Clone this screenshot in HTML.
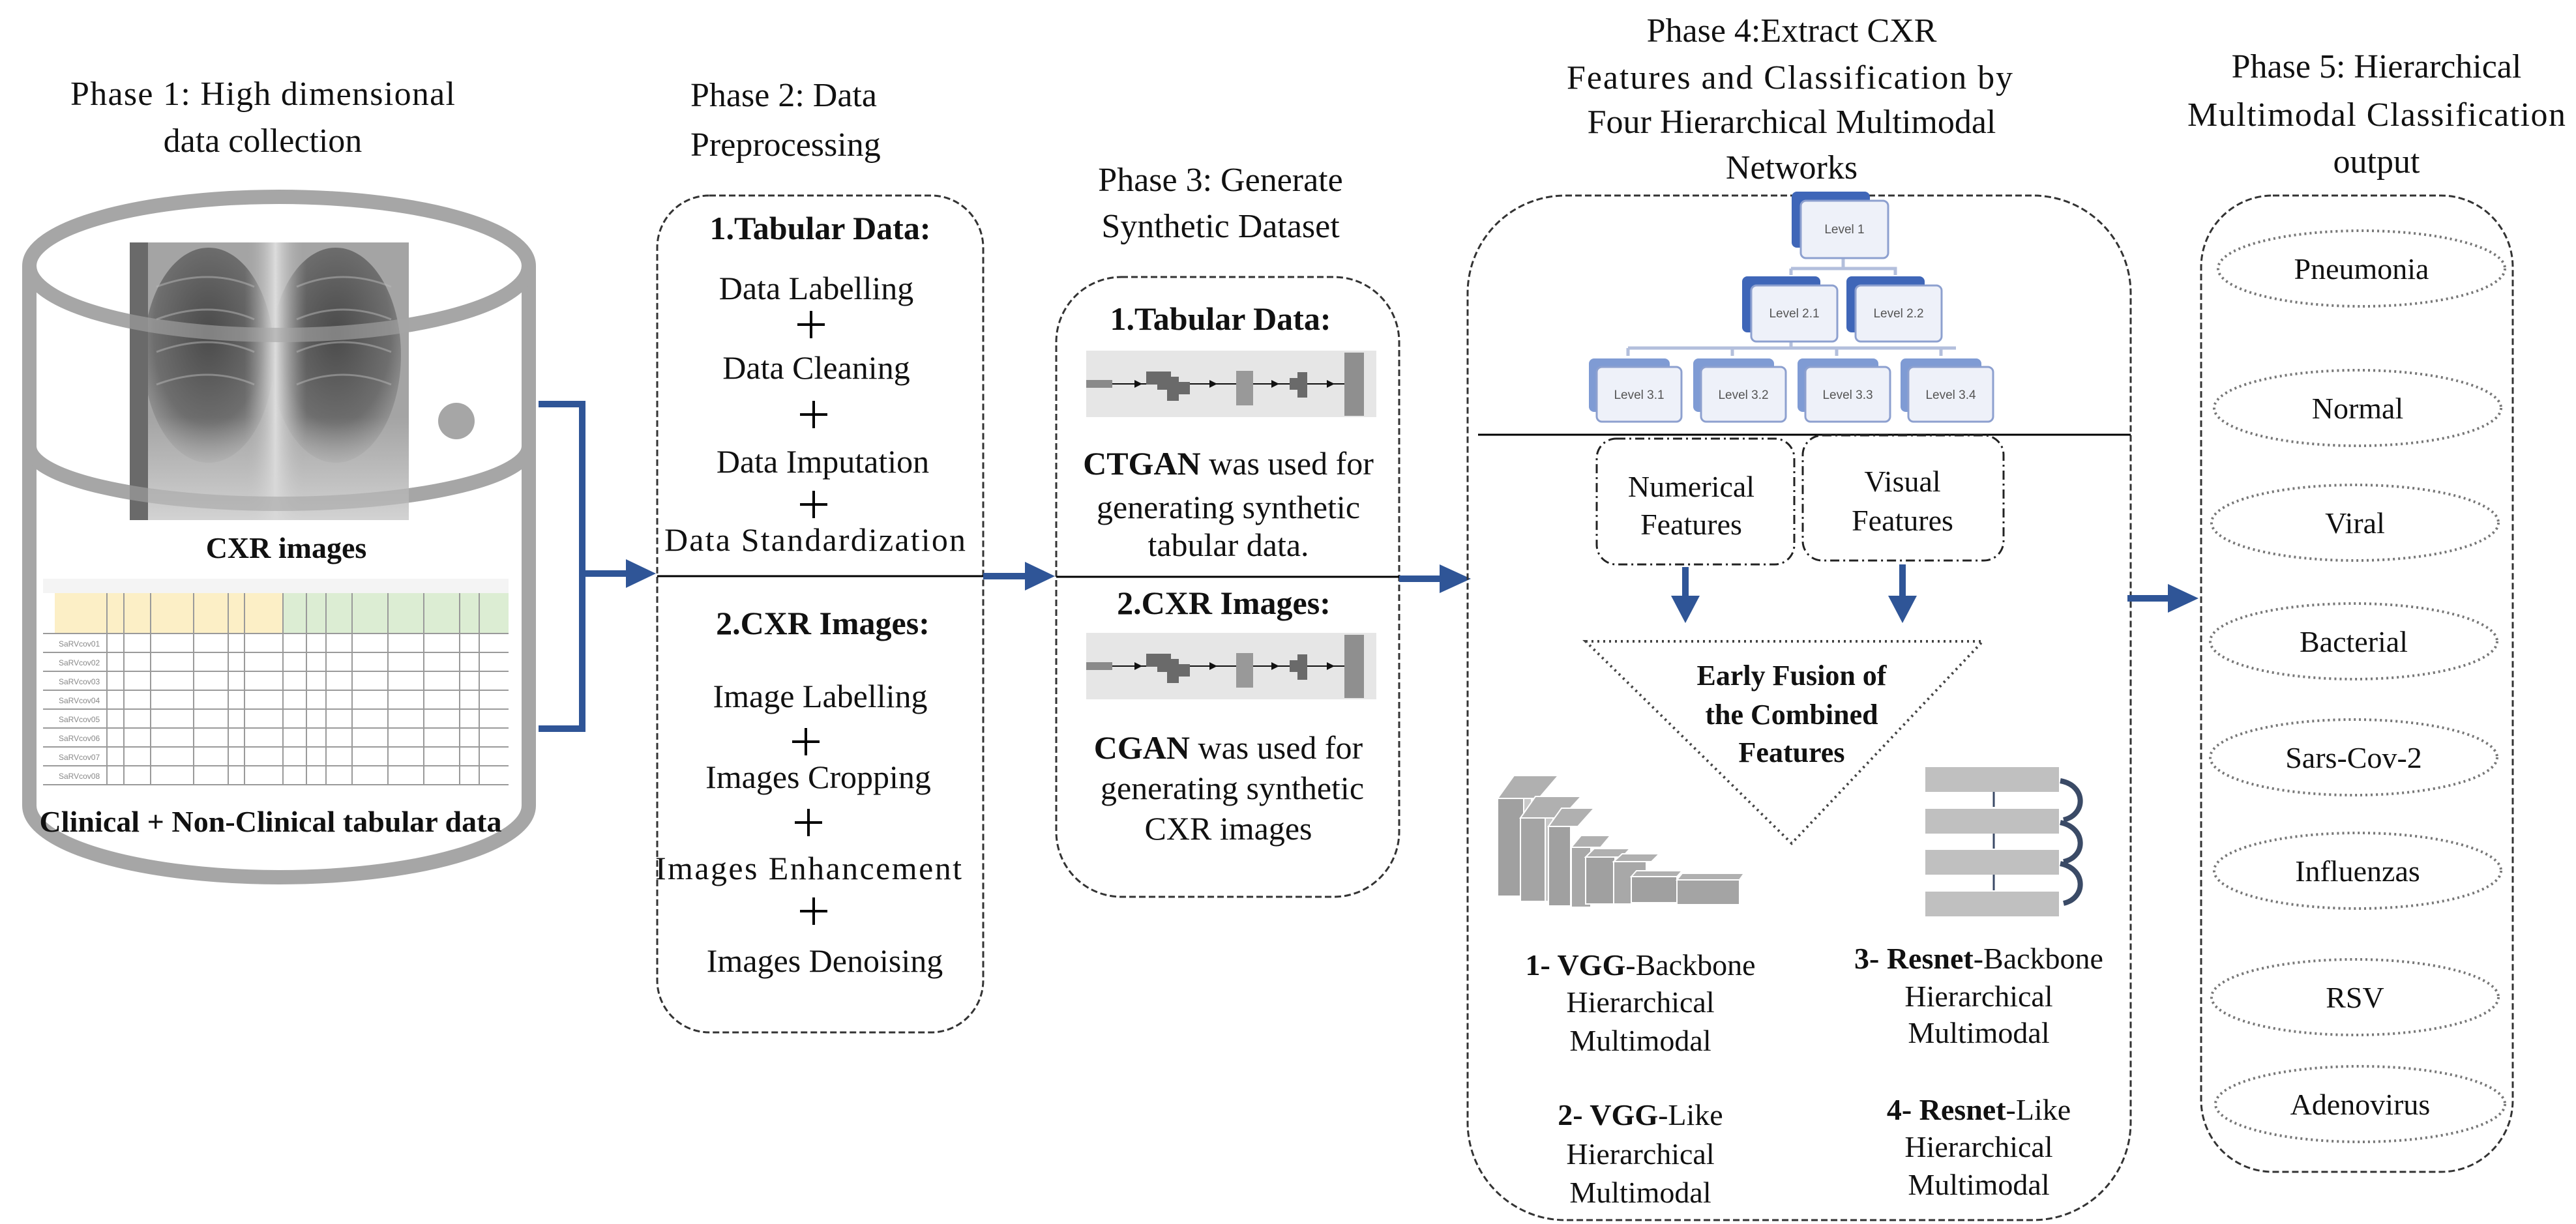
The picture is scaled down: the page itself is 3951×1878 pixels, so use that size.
<!DOCTYPE html>
<html><head><meta charset="utf-8"><style>
html,body{margin:0;padding:0;background:#fff}
svg{display:block}
text{font-family:"Liberation Serif",serif;fill:#111}
.t{font-size:52px}
.b{font-size:50px}
.bd{font-weight:bold}
.lv{font-family:"Liberation Sans",sans-serif;font-size:19px;fill:#555}
</style></head><body>
<svg width="3951" height="1878" viewBox="0 0 3951 1878" xmlns="http://www.w3.org/2000/svg">
<defs>
<radialGradient id="lung" cx="50%" cy="40%" r="60%"><stop offset="0" stop-color="#4a4a4a"/><stop offset="0.7" stop-color="#6e6e6e"/><stop offset="1" stop-color="#9a9a9a"/></radialGradient>
<linearGradient id="med" x1="0" y1="0" x2="1" y2="0"><stop offset="0" stop-color="#a0a0a0" stop-opacity="0"/><stop offset="0.5" stop-color="#dcdcdc"/><stop offset="1" stop-color="#a0a0a0" stop-opacity="0"/></linearGradient>
<linearGradient id="dia" x1="0" y1="0" x2="0" y2="1"><stop offset="0" stop-color="#d4d4d4" stop-opacity="0"/><stop offset="1" stop-color="#d8d8d8" stop-opacity="0.9"/></linearGradient>
</defs>

<!-- ===== Phase 1 ===== -->
<text class="t" x="403" y="161" text-anchor="middle" textLength="590">Phase 1: High  dimensional</text>
<text class="t" x="403" y="233" text-anchor="middle">data collection</text>

<g fill="none" stroke="#a6a6a6" stroke-width="22">
<ellipse cx="428" cy="408" rx="383" ry="106"/>
<line x1="45" y1="408" x2="45" y2="1236"/>
<line x1="811" y1="408" x2="811" y2="1236"/>
<path d="M45 685 A383 88 0 0 0 811 685"/>
<path d="M45 1236 A383 110 0 0 0 811 1236"/>
</g>
<circle cx="700" cy="646" r="28" fill="#a6a6a6"/>

<!-- X-ray -->
<g>
<rect x="199" y="372" width="428" height="426" fill="#a4a4a4"/>
<ellipse cx="320" cy="545" rx="100" ry="165" fill="url(#lung)"/>
<ellipse cx="515" cy="545" rx="100" ry="165" fill="url(#lung)"/>
<rect x="375" y="372" width="95" height="426" fill="url(#med)"/>
<rect x="199" y="640" width="428" height="158" fill="url(#dia)"/>
<g stroke="#b8b8b8" stroke-width="3" fill="none" opacity="0.5">
<path d="M240 440 Q320 410 390 440 M240 490 Q320 460 390 490 M240 540 Q320 510 390 540 M240 590 Q320 560 390 590"/>
<path d="M455 440 Q525 410 600 440 M455 490 Q525 460 600 490 M455 540 Q525 510 600 540 M455 590 Q525 560 600 590"/>
</g>
<rect x="199" y="372" width="28" height="426" fill="#6a6a6a"/>
</g>
<path d="M45 408 A383 106 0 0 0 811 408" fill="none" stroke="#a6a6a6" stroke-width="22" opacity="0.6"/>
<path d="M45 685 A383 88 0 0 0 811 685" fill="none" stroke="#a6a6a6" stroke-width="22" opacity="0.6"/>
<text x="439" y="856" text-anchor="middle" class="bd" font-size="46">CXR images</text>

<!-- Table -->
<g>
<rect x="66" y="888" width="714" height="324" fill="#fff"/>
<rect x="66" y="888" width="714" height="22" fill="#f4f4f4"/>
<rect x="84" y="910" width="350" height="62" fill="#fcefc6"/>
<rect x="434" y="910" width="346" height="62" fill="#dcedd3"/>
<g stroke="#9a9a9a" stroke-width="2">
<line x1="66" y1="972" x2="780" y2="972"/><line x1="66" y1="1001" x2="780" y2="1001"/>
<line x1="66" y1="1030" x2="780" y2="1030"/><line x1="66" y1="1059" x2="780" y2="1059"/>
<line x1="66" y1="1088" x2="780" y2="1088"/><line x1="66" y1="1117" x2="780" y2="1117"/>
<line x1="66" y1="1146" x2="780" y2="1146"/><line x1="66" y1="1175" x2="780" y2="1175"/>
<line x1="66" y1="1204" x2="780" y2="1204"/>
<line x1="164" y1="910" x2="164" y2="1204"/><line x1="190" y1="910" x2="190" y2="1204"/>
<line x1="231" y1="910" x2="231" y2="1204"/><line x1="297" y1="910" x2="297" y2="1204"/>
<line x1="350" y1="910" x2="350" y2="1204"/><line x1="375" y1="910" x2="375" y2="1204"/>
<line x1="434" y1="910" x2="434" y2="1204"/><line x1="470" y1="910" x2="470" y2="1204"/>
<line x1="500" y1="910" x2="500" y2="1204"/><line x1="540" y1="910" x2="540" y2="1204"/>
<line x1="595" y1="910" x2="595" y2="1204"/><line x1="650" y1="910" x2="650" y2="1204"/>
<line x1="705" y1="910" x2="705" y2="1204"/><line x1="735" y1="910" x2="735" y2="1204"/>
</g>
<g>
<text x="90" y="992" style="fill:#888;font-family:'Liberation Sans',sans-serif;font-size:12px">SaRVcov01</text>
<text x="90" y="1021" style="fill:#888;font-family:'Liberation Sans',sans-serif;font-size:12px">SaRVcov02</text>
<text x="90" y="1050" style="fill:#888;font-family:'Liberation Sans',sans-serif;font-size:12px">SaRVcov03</text>
<text x="90" y="1079" style="fill:#888;font-family:'Liberation Sans',sans-serif;font-size:12px">SaRVcov04</text>
<text x="90" y="1108" style="fill:#888;font-family:'Liberation Sans',sans-serif;font-size:12px">SaRVcov05</text>
<text x="90" y="1137" style="fill:#888;font-family:'Liberation Sans',sans-serif;font-size:12px">SaRVcov06</text>
<text x="90" y="1166" style="fill:#888;font-family:'Liberation Sans',sans-serif;font-size:12px">SaRVcov07</text>
<text x="90" y="1195" style="fill:#888;font-family:'Liberation Sans',sans-serif;font-size:12px">SaRVcov08</text>
</g>
</g>
<text x="415" y="1276" text-anchor="middle" class="bd" font-size="46" textLength="709">Clinical + Non-Clinical tabular  data</text>

<!-- bracket + arrow 1 -->
<path d="M826 620 H893 V1118 H826" fill="none" stroke="#2F5597" stroke-width="10"/>
<line x1="893" y1="880" x2="965" y2="880" stroke="#2F5597" stroke-width="10"/>
<polygon points="960,858 1006,880 960,902" fill="#2F5597"/>

<!-- ===== Phase 2 ===== -->
<text class="t" x="1059" y="163">Phase 2: Data</text>
<text class="t" x="1059" y="239">Preprocessing</text>
<rect x="1008" y="300" width="500" height="1284" rx="80" ry="80" fill="none" stroke="#333" stroke-width="3" stroke-dasharray="10 5"/>
<line x1="1008" y1="884" x2="1508" y2="884" stroke="#000" stroke-width="3"/>
<g text-anchor="middle">
<text class="b bd" x="1258" y="367">1.Tabular Data:</text>
<text class="b" x="1252" y="459">Data Labelling</text>
<text class="b" x="1252" y="581">Data Cleaning</text>
<text class="b" x="1262" y="725">Data Imputation</text>
<text class="b" x="1250" y="845" textLength="462">Data Standardization</text>
<text class="b bd" x="1262" y="973">2.CXR Images:</text>
<text class="b" x="1258" y="1085">Image Labelling</text>
<text class="b" x="1255" y="1209">Images Cropping</text>
<text class="b" x="1240" y="1349" textLength="470">Images Enhancement</text>
<text class="b" x="1265" y="1491">Images Denoising</text>
</g>
<g stroke="#000" stroke-width="4">
<path d="M1244 477 V519 M1223 498 H1265"/>
<path d="M1248 615 V657 M1227 636 H1269"/>
<path d="M1248 753 V795 M1227 774 H1269"/>
<path d="M1236 1117 V1159 M1215 1138 H1257"/>
<path d="M1240 1241 V1283 M1219 1262 H1261"/>
<path d="M1248 1377 V1419 M1227 1398 H1269"/>
</g>
<line x1="1508" y1="884" x2="1580" y2="884" stroke="#2F5597" stroke-width="10"/>
<polygon points="1572,862 1618,884 1572,906" fill="#2F5597"/>

<!-- ===== Phase 3 ===== -->
<text class="t" x="1872" y="293" text-anchor="middle">Phase 3: Generate</text>
<text class="t" x="1872" y="364" text-anchor="middle">Synthetic  Dataset</text>
<rect x="1620" y="425" width="526" height="951" rx="100" ry="100" fill="none" stroke="#333" stroke-width="3" stroke-dasharray="10 5"/>
<line x1="1620" y1="885" x2="2146" y2="885" stroke="#000" stroke-width="3"/>
<g id="strip1">
<rect x="1666" y="538" width="445" height="102" fill="#e6e6e6"/>
<rect x="1666" y="583" width="40" height="12" fill="#8a8a8a"/>
<line x1="1706" y1="589" x2="2062" y2="589" stroke="#111" stroke-width="2"/>
<polygon points="1740,583 1752,589 1740,595" fill="#111"/>
<path d="M1758 570 H1796 V578 H1808 V586 H1825 V605 H1808 V615 H1790 V598 H1775 V590 H1758 Z" fill="#6a6a6a"/>
<polygon points="1855,583 1867,589 1855,595" fill="#111"/>
<rect x="1896" y="569" width="26" height="53" fill="#999"/>
<polygon points="1950,583 1962,589 1950,595" fill="#111"/>
<path d="M1978 580 H1990 V571 H2005 V610 H1990 V598 H1978 Z" fill="#6a6a6a"/>
<polygon points="2035,583 2047,589 2035,595" fill="#111"/>
<rect x="2062" y="541" width="30" height="97" fill="#8f8f8f"/>
</g>
<use href="#strip1" transform="translate(0,433)"/>
<g text-anchor="middle">
<text class="b bd" x="1872" y="506">1.Tabular  Data:</text>
<text class="b" x="1884" y="728"><tspan class="bd">CTGAN</tspan> was used for</text>
<text class="b" x="1884" y="795">generating synthetic</text>
<text class="b" x="1884" y="853">tabular data.</text>
<text class="b bd" x="1877" y="942">2.CXR Images:</text>
<text class="b" x="1884" y="1164"><tspan class="bd">CGAN</tspan> was used for</text>
<text class="b" x="1890" y="1226">generating synthetic</text>
<text class="b" x="1884" y="1288">CXR images</text>
</g>
<line x1="2146" y1="888" x2="2215" y2="888" stroke="#2F5597" stroke-width="10"/>
<polygon points="2208,866 2256,888 2208,910" fill="#2F5597"/>

<!-- ===== Phase 4 ===== -->
<g text-anchor="middle">
<text class="t" x="2748" y="64">Phase 4:Extract  CXR</text>
<text class="t" x="2745" y="136" textLength="684">Features and Classification  by</text>
<text class="t" x="2748" y="204">Four Hierarchical  Multimodal</text>
<text class="t" x="2748" y="274">Networks</text>
</g>
<rect x="2251" y="300" width="1017" height="1572" rx="150" ry="150" fill="none" stroke="#333" stroke-width="3" stroke-dasharray="10 5"/>

<g stroke="#b3bfdc" stroke-width="5" fill="none">
<path d="M2747 412 V422 M2827 396 V412 M2747 412 H2907 V422"/>
<path d="M2747 523 V534 M2497 534 H3000 M2497 534 V546 M2657 534 V546 M2817 534 V546 M2977 534 V546"/>
</g>
<g>
<rect x="2748" y="294" width="120" height="86" rx="8" fill="#3f66b8"/>
<rect x="2762" y="308" width="134" height="88" rx="8" fill="#eef1f9" stroke="#8da0cf" stroke-width="3"/>
<text class="lv" x="2829" y="358" text-anchor="middle">Level 1</text>
<rect x="2672" y="424" width="120" height="86" rx="8" fill="#3f66b8"/>
<rect x="2686" y="438" width="132" height="86" rx="8" fill="#eef1f9" stroke="#8da0cf" stroke-width="3"/>
<text class="lv" x="2752" y="487" text-anchor="middle">Level 2.1</text>
<rect x="2832" y="424" width="120" height="86" rx="8" fill="#3f66b8"/>
<rect x="2846" y="438" width="132" height="86" rx="8" fill="#eef1f9" stroke="#8da0cf" stroke-width="3"/>
<text class="lv" x="2912" y="487" text-anchor="middle">Level 2.2</text>
<rect x="2437" y="550" width="124" height="82" rx="8" fill="#7f9bd4"/>
<rect x="2449" y="563" width="130" height="84" rx="8" fill="#eef1f9" stroke="#8da0cf" stroke-width="3"/>
<text class="lv" x="2514" y="612" text-anchor="middle">Level 3.1</text>
<rect x="2597" y="550" width="124" height="82" rx="8" fill="#7f9bd4"/>
<rect x="2609" y="563" width="130" height="84" rx="8" fill="#eef1f9" stroke="#8da0cf" stroke-width="3"/>
<text class="lv" x="2674" y="612" text-anchor="middle">Level 3.2</text>
<rect x="2757" y="550" width="124" height="82" rx="8" fill="#7f9bd4"/>
<rect x="2769" y="563" width="130" height="84" rx="8" fill="#eef1f9" stroke="#8da0cf" stroke-width="3"/>
<text class="lv" x="2834" y="612" text-anchor="middle">Level 3.3</text>
<rect x="2915" y="550" width="124" height="82" rx="8" fill="#7f9bd4"/>
<rect x="2927" y="563" width="130" height="84" rx="8" fill="#eef1f9" stroke="#8da0cf" stroke-width="3"/>
<text class="lv" x="2992" y="612" text-anchor="middle">Level 3.4</text>
</g>
<line x1="2267" y1="667" x2="3268" y2="667" stroke="#000" stroke-width="3"/>

<g fill="none" stroke="#222" stroke-width="3" stroke-dasharray="14 6 3 6">
<rect x="2449" y="673" width="303" height="193" rx="30"/>
<rect x="2765" y="668" width="308" height="192" rx="30"/>
</g>
<g text-anchor="middle" font-size="46">
<text x="2594" y="762">Numerical</text>
<text x="2594" y="820">Features</text>
<text x="2918" y="754">Visual</text>
<text x="2918" y="814">Features</text>
</g>
<line x1="2585" y1="870" x2="2585" y2="920" stroke="#2F5597" stroke-width="10"/>
<polygon points="2563,914 2607,914 2585,956" fill="#2F5597"/>
<line x1="2918" y1="866" x2="2918" y2="920" stroke="#2F5597" stroke-width="10"/>
<polygon points="2896,914 2940,914 2918,956" fill="#2F5597"/>

<polygon points="2432,984 3041,984 2748,1294" fill="none" stroke="#444" stroke-width="4" stroke-dasharray="3 6"/>
<g text-anchor="middle" font-size="44" font-weight="bold">
<text x="2748" y="1051">Early  Fusion  of</text>
<text x="2748" y="1111">the Combined</text>
<text x="2748" y="1169">Features</text>
</g>

<!-- VGG icon -->
<g fill="#b0b0b0" stroke="#fff" stroke-width="2">
<polygon points="2297,1225 2322,1190 2390,1190 2360,1225"/><rect x="2297" y="1225" width="40" height="150" fill="#a0a0a0"/><rect x="2337" y="1225" width="12" height="150" fill="#c8c8c8"/>
<polygon points="2332,1255 2355,1222 2425,1222 2395,1255"/><rect x="2332" y="1255" width="38" height="128" fill="#a4a4a4"/><rect x="2370" y="1255" width="12" height="128" fill="#c8c8c8"/>
<polygon points="2375,1268 2395,1240 2445,1240 2420,1268"/><rect x="2375" y="1268" width="34" height="122" fill="#a0a0a0"/>
<polygon points="2410,1300 2425,1282 2470,1282 2455,1300"/><rect x="2410" y="1300" width="30" height="92" fill="#a8a8a8"/>
<polygon points="2432,1315 2445,1302 2500,1302 2488,1315"/><rect x="2432" y="1315" width="45" height="72" fill="#a0a0a0"/>
<polygon points="2475,1322 2488,1310 2545,1310 2533,1322"/><rect x="2475" y="1322" width="50" height="65" fill="#a8a8a8"/>
<polygon points="2502,1345 2510,1336 2580,1336 2572,1345"/><rect x="2502" y="1345" width="70" height="40" fill="#a0a0a0"/>
<polygon points="2572,1350 2580,1340 2675,1340 2668,1350"/><rect x="2572" y="1350" width="96" height="38" fill="#a4a4a4"/>
</g>
<!-- ResNet icon -->
<g fill="#c0c0c0">
<rect x="2953" y="1177" width="205" height="38"/>
<rect x="2953" y="1241" width="205" height="38"/>
<rect x="2953" y="1304" width="205" height="38"/>
<rect x="2953" y="1368" width="205" height="38"/>
</g>
<g stroke="#3a4a66" stroke-width="3" fill="none">
<path d="M3058 1215 V1238 M3058 1279 V1302 M3058 1342 V1366"/>
<path d="M3160 1198 C3200 1205 3200 1250 3165 1258" stroke-width="8"/>
<path d="M3160 1262 C3200 1270 3200 1315 3165 1322" stroke-width="8"/>
<path d="M3160 1325 C3200 1333 3200 1378 3165 1386" stroke-width="8"/>
</g>

<g text-anchor="middle" font-size="46">
<text x="2516" y="1496"><tspan font-weight="bold">1- VGG</tspan>-Backbone</text>
<text x="2516" y="1553">Hierarchical</text>
<text x="2516" y="1612">Multimodal</text>
<text x="2516" y="1726"><tspan font-weight="bold">2- VGG</tspan>-Like</text>
<text x="2516" y="1786">Hierarchical</text>
<text x="2516" y="1845">Multimodal</text>
<text x="3035" y="1486"><tspan font-weight="bold">3- Resnet</tspan>-Backbone</text>
<text x="3035" y="1544">Hierarchical</text>
<text x="3035" y="1600">Multimodal</text>
<text x="3035" y="1718"><tspan font-weight="bold">4- Resnet</tspan>-Like</text>
<text x="3035" y="1775">Hierarchical</text>
<text x="3035" y="1833">Multimodal</text>
</g>

<line x1="3263" y1="918" x2="3330" y2="918" stroke="#2F5597" stroke-width="10"/>
<polygon points="3325,896 3372,918 3325,940" fill="#2F5597"/>

<!-- ===== Phase 5 ===== -->
<g text-anchor="middle">
<text class="t" x="3645" y="119">Phase 5: Hierarchical</text>
<text class="t" x="3645" y="193" textLength="580">Multimodal  Classification</text>
<text class="t" x="3645" y="265">output</text>
</g>
<rect x="3376" y="300" width="478" height="1498" rx="110" ry="110" fill="none" stroke="#333" stroke-width="3" stroke-dasharray="10 5"/>
<g fill="none" stroke="#777" stroke-width="4" stroke-dasharray="3 5">
<ellipse cx="3622" cy="412" rx="220" ry="58"/>
<ellipse cx="3616" cy="626" rx="220" ry="58"/>
<ellipse cx="3612" cy="802" rx="220" ry="58"/>
<ellipse cx="3610" cy="984" rx="220" ry="58"/>
<ellipse cx="3610" cy="1162" rx="220" ry="58"/>
<ellipse cx="3616" cy="1336" rx="220" ry="58"/>
<ellipse cx="3612" cy="1530" rx="220" ry="58"/>
<ellipse cx="3620" cy="1694" rx="222" ry="58"/>
</g>
<g text-anchor="middle" font-size="46">
<text x="3622" y="428">Pneumonia</text>
<text x="3616" y="642">Normal</text>
<text x="3612" y="818">Viral</text>
<text x="3610" y="1000">Bacterial</text>
<text x="3610" y="1178">Sars-Cov-2</text>
<text x="3616" y="1352">Influenzas</text>
<text x="3612" y="1546">RSV</text>
<text x="3620" y="1710">Adenovirus</text>
</g>
</svg>
</body></html>
